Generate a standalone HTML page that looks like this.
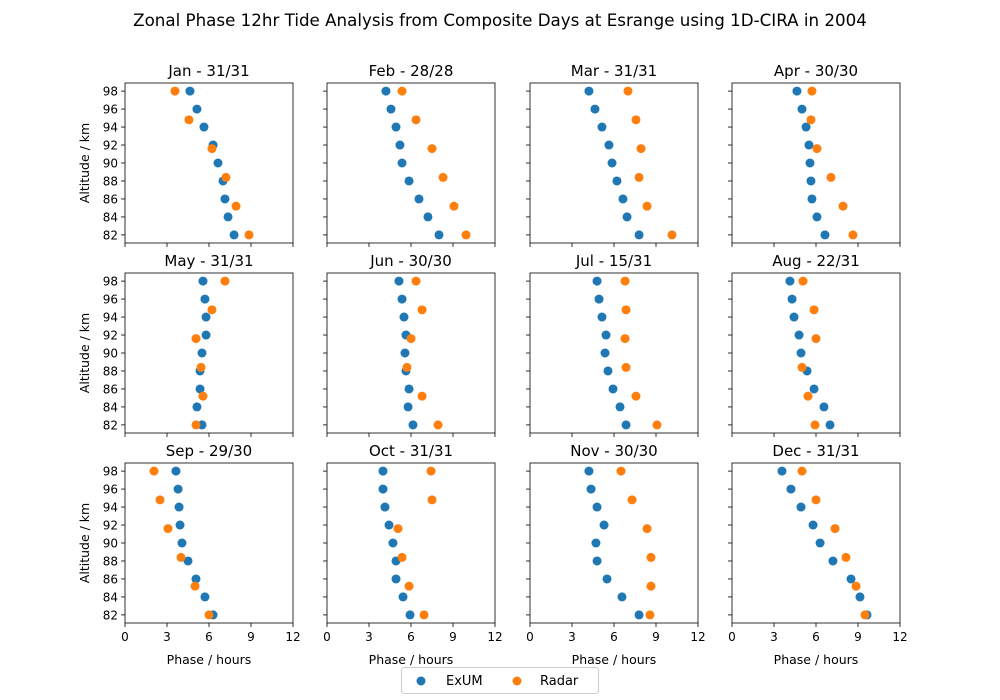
<!DOCTYPE html>
<html><head><meta charset="utf-8"><style>
body{margin:0;background:#fff}
svg{display:block;font-family:"DejaVu Sans","Liberation Sans",sans-serif}
</style></head><body>
<svg id="fig" width="1000" height="700" viewBox="0 0 1000 700">
<text x="500" y="26" text-anchor="middle" font-size="16.7">Zonal Phase 12hr Tide Analysis from Composite Days at Esrange using 1D-CIRA in 2004</text>
<g id="panels"></g>
<g>
<rect x="401.5" y="667.5" width="197" height="26" rx="3" fill="#fff" stroke="#ccc"/>
<g><circle cx="421" cy="681" r="4.5" fill="#1f77b4"/><text x="446" y="685" font-size="13">ExUM</text></g>
<g><circle cx="517" cy="681" r="4.5" fill="#ff7f0e"/><text x="540" y="685" font-size="13">Radar</text></g>
</g>
</svg>
<script>
const months=["Jan - 31/31","Feb - 28/28","Mar - 31/31","Apr - 30/30","May - 31/31","Jun - 30/30","Jul - 15/31","Aug - 22/31","Sep - 29/30","Oct - 31/31","Nov - 30/30","Dec - 31/31"];
const exumAlt=[98,96,94,92,90,88,86,84,82];
const radarAlt=[98,94.8,91.6,88.4,85.2,82];
const exumPhase=[
[4.64,5.14,5.64,6.29,6.64,7.0,7.14,7.36,7.79],
[4.21,4.57,4.93,5.21,5.36,5.86,6.57,7.21,8.0],
[4.21,4.64,5.14,5.64,5.86,6.21,6.64,6.93,7.79],
[4.64,5.0,5.29,5.5,5.57,5.64,5.71,6.07,6.64],
[5.57,5.71,5.79,5.79,5.5,5.36,5.36,5.14,5.5],
[5.14,5.36,5.5,5.64,5.57,5.64,5.86,5.79,6.14],
[4.79,4.93,5.14,5.43,5.36,5.57,5.93,6.43,6.86],
[4.14,4.29,4.43,4.79,4.93,5.36,5.86,6.57,7.0],
[3.64,3.79,3.86,3.93,4.07,4.5,5.07,5.71,6.29],
[4.0,4.0,4.14,4.43,4.71,4.93,4.93,5.43,5.93],
[4.21,4.36,4.79,5.29,4.71,4.79,5.5,6.57,7.79],
[3.57,4.21,4.93,5.79,6.29,7.21,8.5,9.14,9.64]];
const radarPhase=[
[3.57,4.57,6.21,7.21,7.93,8.86],
[5.36,6.36,7.5,8.29,9.07,9.93],
[7.0,7.57,7.93,7.79,8.36,10.14],
[5.71,5.64,6.07,7.07,7.93,8.64],
[7.14,6.21,5.07,5.43,5.57,5.07],
[6.36,6.79,6.0,5.71,6.79,7.93],
[6.79,6.86,6.79,6.86,7.57,9.07],
[5.07,5.86,6.0,5.0,5.43,5.93],
[2.07,2.5,3.07,4.0,5.0,6.0],
[7.43,7.5,5.07,5.36,5.86,6.93],
[6.5,7.29,8.36,8.64,8.64,8.57],
[5.0,6.0,7.36,8.14,8.86,9.5]];
const xTicks=[0,3,6,9,12];
const yTicks=[98,96,94,92,90,88,86,84,82];

const NS="http://www.w3.org/2000/svg";
const root=document.getElementById("panels");
function mk(tag,attrs,parent){const e=document.createElementNS(NS,tag);for(const k in attrs)e.setAttribute(k,attrs[k]);parent.appendChild(e);return e;}
const colX=[125,327,530,732], rowY=[83,273,463], W=168, H=160;
const yMin=81.1, yMax=98.9;
months.forEach((m,i)=>{
  const c=i%4,r=Math.floor(i/4),x0=colX[c],y0=rowY[r];
  const sx=v=>x0+v/12*W, sy=v=>y0+(yMax-v)/(yMax-yMin)*H;
  const g=mk("g",{},root);
  
  
  const t=mk("text",{x:x0+W/2,y:y0-7,"text-anchor":"middle","font-size":"15"},g);t.textContent=m;
  
  
  xTicks.forEach(v=>{
    mk("line",{x1:sx(v),x2:sx(v),y1:y0+H,y2:y0+H+4,stroke:"#000","stroke-width":0.8},g);
    if(r===2){const tl=mk("text",{x:sx(v),y:y0+H+18,"text-anchor":"middle","font-size":"12"},g);tl.textContent=v;
      
      }
  });
  yTicks.forEach(v=>{
    mk("line",{x1:x0-4,x2:x0,y1:sy(v),y2:sy(v),stroke:"#000","stroke-width":0.8},g);
    if(c===0){const tl=mk("text",{x:x0-7,y:sy(v)+4.5,"text-anchor":"end","font-size":"12"},g);tl.textContent=v;
      
      }
  });
  if(c===0){const yl=mk("text",{x:0,y:0,"text-anchor":"middle","font-size":"12.5",transform:`translate(89,${y0+H/2}) rotate(-90)`},g);yl.textContent="Altitude / km";
    
    }
  if(r===2){const xl=mk("text",{x:x0+W/2,y:664,"text-anchor":"middle","font-size":"12.5"},g);xl.textContent="Phase / hours";
    
    }
  exumPhase[i].forEach((p,k)=>{const d=mk("circle",{cx:sx(p),cy:sy(exumAlt[k]),r:4.5,fill:"#1f77b4"},g);
    
    });
  radarPhase[i].forEach((p,k)=>{const d=mk("circle",{cx:sx(p),cy:sy(radarAlt[k]),r:4.5,fill:"#ff7f0e"},g);
    
    });
  const fr=mk("rect",{x:x0,y:y0,width:W,height:H,fill:"none",stroke:"#000","stroke-width":0.8},g);
  
  
});
</script>
</body></html>
